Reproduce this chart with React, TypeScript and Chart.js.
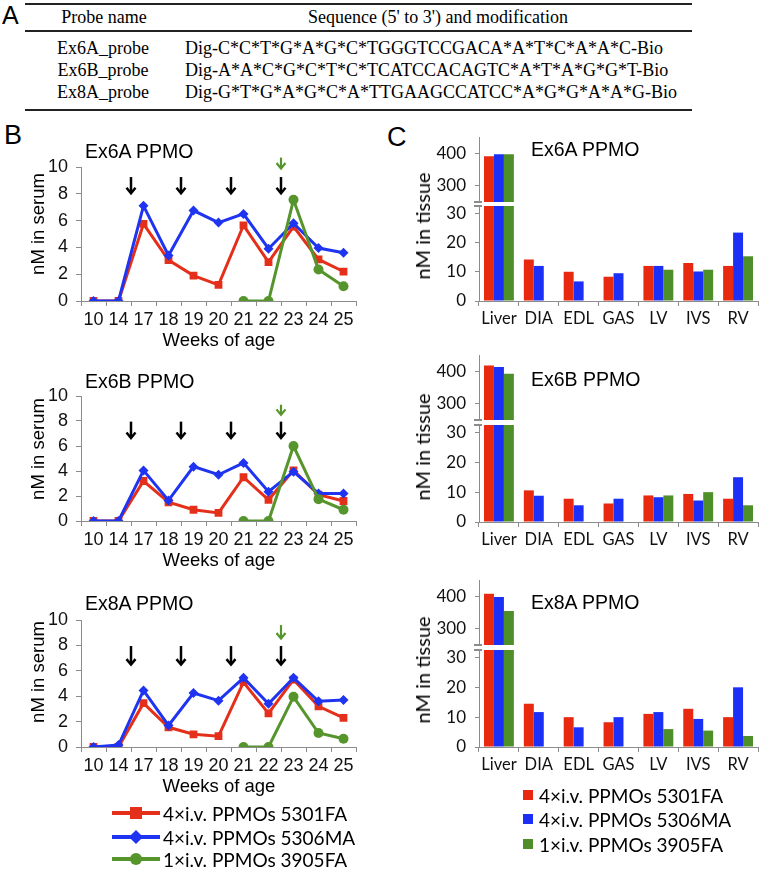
import React, { useEffect, useRef } from "react";
import { Chart, registerables } from "chart.js";
Chart.register(...registerables);

// ---------- DATA ----------
const weeks = ["10", "14", "17", "18", "19", "20", "21", "22", "23", "24", "25"];
const seriesNames = ["4×i.v. PPMOs 5301FA", "4×i.v. PPMOs 5306MA", "1×i.v. PPMOs 3905FA"];

const ex6A_5301FA = [0, 0, 5.75, 3.05, 1.9, 1.2, 5.65, 2.9, 5.55, 3.1, 2.2];
const ex6A_5306MA = [0, 0, 7.1, 3.4, 6.75, 5.85, 6.5, 3.9, 5.8, 3.95, 3.6];
const ex6A_3905FA = [null, null, null, null, null, null, 0, 0, 7.55, 2.35, 1.1];

const ex6B_5301FA = [0, 0, 3.2, 1.5, 0.9, 0.65, 3.5, 1.7, 4.05, 2.1, 1.6];
const ex6B_5306MA = [0, 0, 4.05, 1.65, 4.35, 3.7, 4.65, 2.35, 3.95, 2.2, 2.2];
const ex6B_3905FA = [null, null, null, null, null, null, 0, 0, 6.0, 1.75, 0.9];

const ex8A_5301FA = [0, 0, 3.45, 1.55, 1.0, 0.85, 5.1, 2.65, 5.3, 3.2, 2.3];
const ex8A_5306MA = [0, 0.15, 4.45, 1.7, 4.25, 3.65, 5.45, 3.4, 5.45, 3.6, 3.7];
const ex8A_3905FA = [null, null, null, null, null, null, 0, 0, 3.95, 1.1, 0.65];

const serumTicks = [0, 2, 4, 6, 8, 10];
// doses given between these category indices (arrow sits between index-1 and index)
const doseBoundaries4x = [2, 4, 6, 8];
const doseBoundary1x = [8];

const tissues = ["Liver", "DIA", "EDL", "GAS", "LV", "IVS", "RV"];
const ex6A_t5301FA = [391, 14.2, 10.0, 8.3, 12.0, 13.0, 12.0];
const ex6A_t5306MA = [397, 12.0, 6.7, 9.5, 12.0, 10.1, 23.4];
const ex6A_t3905FA = [397, null, null, null, 10.7, 10.7, 15.3];

const ex6B_t5301FA = [418, 10.6, 7.8, 6.2, 8.9, 9.4, 7.8];
const ex6B_t5306MA = [413, 8.8, 5.6, 7.8, 8.3, 7.2, 15.0];
const ex6B_t3905FA = [392, null, null, null, 8.9, 10.0, 5.6];

const ex8A_t5301FA = [408, 14.5, 10.0, 8.3, 11.1, 12.8, 10.0];
const ex8A_t5306MA = [398, 11.7, 6.6, 10.0, 11.7, 9.4, 20.0];
const ex8A_t3905FA = [355, null, null, null, 6.0, 5.5, 3.7];

const tissueHighTicks = [300, 400];
const tissueLowTicks = [0, 10, 20, 30];

const probeNames = ["Ex6A_probe", "Ex6B_probe", "Ex8A_probe"];
const probeSeqs = [
  "Dig-C*C*T*G*A*G*C*TGGGTCCGACA*A*T*C*A*A*C-Bio",
  "Dig-A*A*C*G*C*T*C*TCATCCACAGTC*A*T*A*G*G*T-Bio",
  "Dig-G*T*G*A*G*C*A*TTGAAGCCATCC*A*G*G*A*A*G-Bio",
];

// ---------- STYLE ----------
const RED = "#e4301b";
const BLUE = "#1e34f0";
const GREEN = "#55952c";
const BRED = "#e8290f";
const BBLUE = "#1b2ff6";
const BGREEN = "#4f8f29";
const AXIS = "#8c8c8c";
const SANS = "'Liberation Sans', Arial, sans-serif";
const CAL = "Lato, 'Open Sans', sans-serif";
const SERIF = "'Liberation Serif', 'Times New Roman', serif";
const PAD = 24;

const arrowPlugin = {
  id: "doseArrows",
  afterDatasetsDraw(chart: any, _a: any, opts: any) {
    const { ctx } = chart;
    const xs = chart.scales.x;
    const ys = chart.scales.y;
    const draw = (b: number, top: number, bot: number, color: string, lw: number) => {
      const px = (xs.getPixelForValue(b - 1) + xs.getPixelForValue(b)) / 2;
      const t = ys.getPixelForValue(top);
      const bt = ys.getPixelForValue(bot);
      ctx.save();
      ctx.strokeStyle = color;
      ctx.lineWidth = lw;
      ctx.beginPath();
      ctx.moveTo(px, t);
      ctx.lineTo(px, bt - 1);
      ctx.stroke();
      ctx.beginPath();
      ctx.moveTo(px - 4.5, bt - 6);
      ctx.lineTo(px, bt - 0.5);
      ctx.lineTo(px + 4.5, bt - 6);
      ctx.stroke();
      ctx.restore();
    };
    (opts.black4x || []).forEach((b: number) => draw(b, opts.blackRange[0], opts.blackRange[1], "#000", 2.5));
    (opts.green1x || []).forEach((b: number) => draw(b, opts.greenRange[0], opts.greenRange[1], GREEN, 2.2));
  },
};

function lineConfig(p: any) {
  const base = { borderWidth: 3, pointBorderWidth: 0, spanGaps: false, tension: 0 };
  return {
    type: "line",
    data: {
      labels: weeks,
      datasets: [
        { ...base, label: seriesNames[0], data: p.s0, borderColor: RED, backgroundColor: RED, pointBackgroundColor: RED, pointStyle: "rect", pointRadius: 5.5, order: 3 },
        { ...base, label: seriesNames[1], data: p.s1, borderColor: BLUE, backgroundColor: BLUE, pointBackgroundColor: BLUE, pointStyle: "rectRot", pointRadius: 5, order: 2 },
        { ...base, label: seriesNames[2], data: p.s2, borderColor: GREEN, backgroundColor: GREEN, pointBackgroundColor: GREEN, pointStyle: "circle", pointRadius: 5, order: 1 },
      ],
    },
    options: {
      responsive: false,
      animation: false,
      devicePixelRatio: 1,
      events: [],
      layout: { padding: { top: p.padTop, left: 0, right: 6, bottom: 0 } },
      plugins: {
        legend: { display: false },
        tooltip: { enabled: false },
        doseArrows: { black4x: doseBoundaries4x, green1x: doseBoundary1x, blackRange: p.blackRange, greenRange: p.greenRange },
      },
      scales: {
        x: {
          offset: true,
          grid: { offset: true, drawOnChartArea: false, tickLength: 5, color: AXIS },
          border: { color: AXIS },
          ticks: { autoSkip: false, maxRotation: 0, minRotation: 0, color: "#111", font: { family: SANS, size: 18 }, padding: 3 },
          afterFit: (s: any) => { s.height = 50; },
        },
        y: {
          min: 0,
          max: 10,
          afterBuildTicks: (s: any) => { s.ticks = serumTicks.map((v) => ({ value: v })); },
          ticks: { color: "#111", font: { family: SANS, size: 18 }, padding: 8 },
          grid: { drawOnChartArea: false, tickLength: 5, color: AXIS },
          border: { color: AXIS },
          afterFit: (s: any) => { s.width = 81; },
        },
      },
    },
    plugins: [arrowPlugin],
  };
}

function barConfig(p: any, upper: boolean) {
  const mk = (label: string, data: any, color: string) => ({
    label, data, backgroundColor: color, borderWidth: 0, categoryPercentage: 0.75, barPercentage: 1, clip: 0,
  });
  return {
    type: "bar",
    data: {
      labels: tissues,
      datasets: [mk(seriesNames[0], p.s0, BRED), mk(seriesNames[1], p.s1, BBLUE), mk(seriesNames[2], p.s2, BGREEN)],
    },
    options: {
      responsive: false,
      animation: false,
      devicePixelRatio: 1,
      events: [],
      layout: { padding: { top: PAD, left: 0, right: 4, bottom: upper ? PAD : 0 } },
      plugins: { legend: { display: false }, tooltip: { enabled: false } },
      scales: {
        x: {
          display: !upper,
          offset: true,
          grid: { offset: true, drawOnChartArea: false, tickLength: 5, color: AXIS },
          border: { color: AXIS },
          ticks: { autoSkip: false, maxRotation: 0, minRotation: 0, color: "#111", font: { family: CAL, size: 16.5 }, padding: 3 },
          afterFit: (s: any) => { s.height = upper ? 0 : 32; },
        },
        y: {
          min: upper ? 250 : 0,
          max: upper ? 450 : 32.5,
          afterBuildTicks: (s: any) => { s.ticks = (upper ? tissueHighTicks : tissueLowTicks).map((v) => ({ value: v })); },
          ticks: { color: "#111", font: { family: CAL, size: 17 }, padding: 9 },
          grid: { drawOnChartArea: false, tickLength: 4, color: AXIS },
          border: { color: AXIS },
          afterFit: (s: any) => { s.width = 109; },
        },
      },
    },
  };
}

function ChartBox({ x, y, w, h, config }: any) {
  const ref = useRef<HTMLCanvasElement>(null);
  useEffect(() => {
    const c = new Chart(ref.current as HTMLCanvasElement, config);
    return () => c.destroy();
  }, []);
  return <canvas ref={ref} width={w} height={h} style={{ position: "absolute", left: x, top: y, width: w, height: h }} />;
}

function Txt({ x, y, size, family, children, anchor = "start", rot = false, weight = 400, color = "#000" }: any) {
  const tx = anchor === "middle" ? "-50%" : anchor === "end" ? "-100%" : "0";
  const transform = rot ? "translate(-50%,-50%) rotate(-90deg)" : `translate(${tx},-50%)`;
  return (
    <div style={{ position: "absolute", left: x, top: y, transform, fontFamily: family, fontSize: size, lineHeight: 1, whiteSpace: "nowrap", fontWeight: weight, color }}>
      {children}
    </div>
  );
}

const linePanels = [
  { title: "Ex6A PPMO", top: 140, padTop: 27, plotH: 134, titleY: 152, yTitleY: 224, s0: ex6A_5301FA, s1: ex6A_5306MA, s2: ex6A_3905FA, blackRange: [9.25, 8.0], greenRange: [10.7, 9.85] },
  { title: "Ex6B PPMO", top: 376, padTop: 20, plotH: 125, titleY: 382, yTitleY: 449, s0: ex6B_5301FA, s1: ex6B_5306MA, s2: ex6B_3905FA, blackRange: [7.95, 6.6], greenRange: [9.3, 8.45] },
  { title: "Ex8A PPMO", top: 600, padTop: 20, plotH: 127, titleY: 604, yTitleY: 672, s0: ex8A_5301FA, s1: ex8A_5306MA, s2: ex8A_3905FA, blackRange: [7.95, 6.45], greenRange: [9.6, 8.5] },
];

const barPanels = [
  { title: "Ex6A PPMO", uTop: 137, uH: 65, lTop: 206, lH: 95, titleY: 150, yTitleY: 226, s0: ex6A_t5301FA, s1: ex6A_t5306MA, s2: ex6A_t3905FA },
  { title: "Ex6B PPMO", uTop: 355, uH: 65, lTop: 425, lH: 97, titleY: 380, yTitleY: 447, s0: ex6B_t5301FA, s1: ex6B_t5306MA, s2: ex6B_t3905FA },
  { title: "Ex8A PPMO", uTop: 580, uH: 65, lTop: 650, lH: 97, titleY: 603, yTitleY: 670, s0: ex8A_t5301FA, s1: ex8A_t5306MA, s2: ex8A_t3905FA },
];

const lineColors = [RED, BLUE, GREEN];
const barColors = [BRED, BBLUE, BGREEN];

function LineMarker({ i, cx, cy }: any) {
  if (i === 0) return <div style={{ position: "absolute", left: cx - 6, top: cy - 6, width: 12, height: 12, background: RED }} />;
  if (i === 1) return <div style={{ position: "absolute", left: cx - 5, top: cy - 5, width: 10, height: 10, background: BLUE, transform: "rotate(45deg)" }} />;
  return <div style={{ position: "absolute", left: cx - 6, top: cy - 6, width: 12, height: 12, borderRadius: 6, background: GREEN }} />;
}

export default function App() {
  const tableRows = [48, 70, 92];
  return (
    <div style={{ position: "absolute", left: 0, top: 0, width: 762, height: 869, background: "#fff", overflow: "hidden" }}>
      {/* Panel A table */}
      <Txt x={2} y={15} size={25} family={SANS}>A</Txt>
      <div style={{ position: "absolute", left: 25, top: 3, width: 667, height: 2, background: "#222" }} />
      <div style={{ position: "absolute", left: 25, top: 30, width: 667, height: 2, background: "#222" }} />
      <div style={{ position: "absolute", left: 25, top: 109, width: 667, height: 2, background: "#222" }} />
      <Txt x={104} y={17} size={18} family={SERIF} anchor="middle">Probe name</Txt>
      <Txt x={438} y={17} size={18} family={SERIF} anchor="middle">Sequence (5' to 3') and modification</Txt>
      {probeNames.map((n, i) => (
        <Txt key={n} x={103} y={tableRows[i]} size={18} family={SERIF} anchor="middle">{n}</Txt>
      ))}
      {probeSeqs.map((s, i) => (
        <Txt key={s} x={185} y={tableRows[i]} size={18} family={SERIF}>{s}</Txt>
      ))}

      {/* Panel B */}
      <Txt x={4} y={135} size={27} family={SANS}>B</Txt>
      {linePanels.map((p) => (
        <ChartBox key={p.title} x={0} y={p.top} w={362} h={p.padTop + p.plotH + 50} config={lineConfig(p)} />
      ))}
      {linePanels.map((p) => (
        <React.Fragment key={p.title + "t"}>
          <Txt x={85} y={p.titleY} size={19.5} family={SANS}>{p.title}</Txt>
          <Txt x={38} y={p.yTitleY} size={18.5} family={SANS} rot>nM in serum</Txt>
          <Txt x={219} y={p.top + p.padTop + p.plotH + 39} size={18.5} family={SANS} anchor="middle">Weeks of age</Txt>
        </React.Fragment>
      ))}

      {/* Panel C */}
      <Txt x={387} y={137} size={27} family={SANS}>C</Txt>
      {barPanels.map((p) => (
        <React.Fragment key={p.title + "c"}>
          <ChartBox x={370} y={p.uTop - PAD} w={392} h={PAD + p.uH + PAD} config={barConfig(p, true)} />
          <ChartBox x={370} y={p.lTop - PAD} w={392} h={PAD + p.lH + 32} config={barConfig(p, false)} />
          <div style={{ position: "absolute", left: 474, top: p.uTop + p.uH - 1, width: 8, height: 1.5, background: AXIS }} />
          <div style={{ position: "absolute", left: 474, top: p.lTop - 1, width: 8, height: 1.5, background: AXIS }} />
          <Txt x={531} y={p.titleY} size={19.5} family={SANS}>{p.title}</Txt>
          <Txt x={422} y={p.yTitleY} size={20} family={CAL} rot>nM in tissue</Txt>
        </React.Fragment>
      ))}

      {/* Legend B */}
      {seriesNames.map((n, i) => {
        const cy = [813, 837, 859][i];
        return (
          <React.Fragment key={n + "lb"}>
            <div style={{ position: "absolute", left: 112, top: cy - 2, width: 48, height: 4, background: lineColors[i] }} />
            <LineMarker i={i} cx={136} cy={cy} />
            <Txt x={163} y={cy} size={19} family={CAL}>{n}</Txt>
          </React.Fragment>
        );
      })}

      {/* Legend C */}
      {seriesNames.map((n, i) => {
        const cy = [795, 819, 844][i];
        return (
          <React.Fragment key={n + "lc"}>
            <div style={{ position: "absolute", left: 523, top: cy - 5, width: 10, height: 10, background: barColors[i] }} />
            <Txt x={539} y={cy} size={19} family={CAL}>{n}</Txt>
          </React.Fragment>
        );
      })}
    </div>
  );
}
